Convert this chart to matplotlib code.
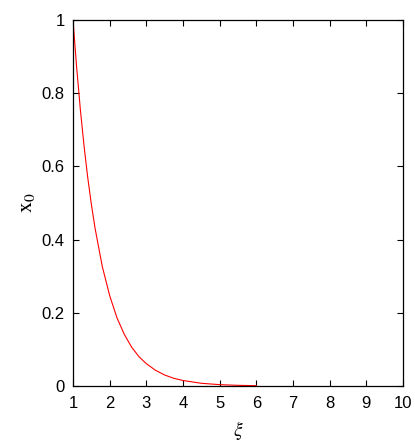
import matplotlib
matplotlib.use('Agg')
import matplotlib.pyplot as plt

# values
xi = [1.0, 1.1, 1.2, 1.3, 1.4, 1.5, 1.6, 1.8, 2.0, 2.2, 2.4, 2.6, 2.8, 3.0,
      3.25, 3.5, 3.75, 4.0, 4.5, 5.0, 5.5, 6.0]
x0 = [1.000, 0.870, 0.756, 0.657, 0.571, 0.497, 0.432, 0.326, 0.247, 0.186, 0.141,
      0.106, 0.080, 0.061, 0.043, 0.030, 0.021, 0.015, 0.0074, 0.0037, 0.0018, 0.0009]

x_ticks = [1, 2, 3, 4, 5, 6, 7, 8, 9, 10]
y_ticks = [0, 0.2, 0.4, 0.6, 0.8, 1]
y_tick_labels = ['0', '0.2', '0.4', '0.6', '0.8', '1']

plt.rcParams['font.family'] = ['Liberation Sans Narrow', 'Liberation Sans', 'DejaVu Sans']
plt.rcParams['mathtext.fontset'] = 'stix'

fig = plt.figure(figsize=(4.15, 4.43), dpi=100)
ax = fig.add_axes([73 / 415, 57 / 443, 330 / 415, 366 / 443])

ax.plot(xi, x0, color='#ff0000', lw=0.8)

ax.set_xlim(1, 10)
ax.set_ylim(0, 1)
ax.set_xticks(x_ticks)
ax.set_xticklabels([str(t) for t in x_ticks])
ax.set_yticks(y_ticks)
ax.set_yticklabels(y_tick_labels)

ax.tick_params(direction='in', length=4, width=0.8, top=True, right=True,
               labelsize=12)
ax.tick_params(axis='x', pad=7)
ax.tick_params(axis='y', pad=6)
for s in ax.spines.values():
    s.set_linewidth(0.9)

ax.set_xlabel(r'$\xi$', fontsize=14, labelpad=6)
ax.set_ylabel(r'$\mathrm{x}_0$', fontsize=16, labelpad=3)

fig.savefig('out.png', dpi=100)
